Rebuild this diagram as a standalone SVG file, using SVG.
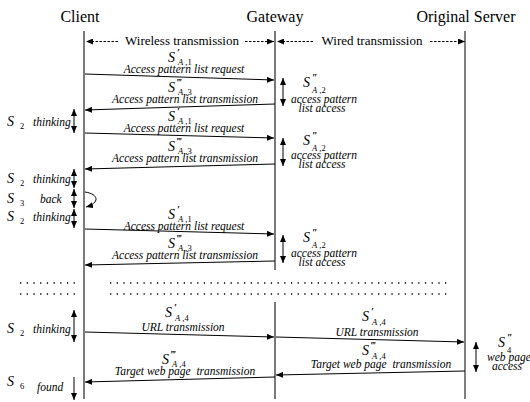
<svg xmlns="http://www.w3.org/2000/svg" width="530" height="402" viewBox="0 0 530 402">
<style>
text{font-family:"Liberation Serif","DejaVu Serif",serif;fill:#000}
.hd{font-size:16px}
.zone{font-size:13px}
.it{font-size:11.5px;font-style:italic;text-anchor:middle}
.itl{font-size:11.5px;font-style:italic}
.S{font-size:14px;font-style:italic}
.sub{font-size:8.5px}
.pr{font-size:10px;font-style:italic;font-weight:bold}
.life{stroke:#7a7a7a;stroke-width:2;fill:none}
.lifeb{stroke:#000;stroke-width:1;fill:none}
.msg{stroke:#000;stroke-width:1;fill:none;marker-end:url(#ah)}
.dbl{stroke:#000;stroke-width:1;fill:none;marker-end:url(#ah);marker-start:url(#ahs)}
.one{stroke:#000;stroke-width:1;fill:none;marker-end:url(#ah)}
.dash{stroke:#000;stroke-width:1;fill:none;stroke-dasharray:2.5 1.5}
.dot{stroke:#000;stroke-width:1.3;fill:none;stroke-dasharray:1.3 5.4}
</style>
<defs>
<marker id="ah" markerUnits="userSpaceOnUse" markerWidth="8" markerHeight="6" refX="7" refY="3" orient="auto"><path d="M0,0 L7,3 L0,6 z" fill="#000"/></marker>
<marker id="ahs" markerUnits="userSpaceOnUse" markerWidth="8" markerHeight="6" refX="7" refY="3" orient="auto-start-reverse"><path d="M0,0 L7,3 L0,6 z" fill="#000"/></marker>
</defs>

<g id="client">
<text class="hd" x="80" y="22" text-anchor="middle">Client</text>
<line class="life" x1="84" y1="31" x2="84" y2="399"/>
</g>
<g id="gateway">
<text class="hd" x="275" y="22" text-anchor="middle">Gateway</text>
<line class="life" x1="275" y1="31" x2="275" y2="270" stroke-width="1.6"/>
<line class="life" x1="275" y1="302" x2="275" y2="399" stroke-width="1.6"/>
</g>
<g id="server">
<text class="hd" x="466" y="22" text-anchor="middle">Original Server</text>
<line class="lifeb" x1="465" y1="31" x2="465" y2="399"/>
</g>

<g id="zones">
<text class="zone" x="182" y="45" text-anchor="middle">Wireless transmission</text>
<line class="dash" x1="118" y1="41.5" x2="86" y2="41.5" marker-end="url(#ah)"/>
<line class="dash" x1="245" y1="41.5" x2="274" y2="41.5" marker-end="url(#ah)"/>
<text class="zone" x="372" y="45" text-anchor="middle">Wired transmission</text>
<line class="dash" x1="313" y1="41.5" x2="277" y2="41.5" marker-end="url(#ah)"/>
<line class="dash" x1="430" y1="41.5" x2="465" y2="41.5" marker-end="url(#ah)"/>
</g>

<g id="connectors">
<line class="msg" x1="85" y1="74" x2="274" y2="80"/>
<line class="msg" x1="275" y1="104" x2="85" y2="110"/>
<line class="msg" x1="85" y1="133" x2="274" y2="138"/>
<line class="msg" x1="275" y1="164" x2="85" y2="169"/>
<line class="msg" x1="85" y1="229" x2="274" y2="234"/>
<line class="msg" x1="275" y1="261" x2="85" y2="265"/>
<line class="msg" x1="85" y1="332" x2="274" y2="337"/>
<line class="msg" x1="276" y1="337" x2="464" y2="342"/>
<line class="msg" x1="465" y1="371" x2="276" y2="375"/>
<line class="msg" x1="275" y1="377" x2="85" y2="382"/>
<path class="msg" d="M85,192 C99,194 100,203 86,207"/>
</g>

<g id="durations">
<line class="dbl" x1="74" y1="109" x2="74" y2="133"/>
<line class="dbl" x1="74" y1="169" x2="74" y2="188"/>
<line class="dbl" x1="74" y1="189" x2="74" y2="208"/>
<line class="dbl" x1="74" y1="209" x2="74" y2="228"/>
<line class="dbl" x1="74" y1="310" x2="74" y2="342"/>
<line class="one" x1="74" y1="377" x2="74" y2="400"/>
<line class="dbl" x1="283" y1="78" x2="283" y2="106"/>
<line class="dbl" x1="283" y1="138" x2="283" y2="166"/>
<line class="dbl" x1="283" y1="235" x2="283" y2="263"/>
<line class="dbl" x1="476" y1="342" x2="476" y2="372"/>
</g>

<g id="dots">
<line class="dot" x1="20" y1="283" x2="76" y2="283"/>
<line class="dot" x1="20" y1="294" x2="76" y2="294"/>
<line class="dot" x1="110" y1="283" x2="451" y2="283"/>
<line class="dot" x1="110" y1="294" x2="451" y2="294"/>
</g>

<g id="client-states">
<text class="S" x="7" y="126">S</text><text class="sub" x="20" y="129">2</text><text class="itl" x="33" y="126">thinking</text>
<text class="S" x="7" y="183">S</text><text class="sub" x="20" y="186">2</text><text class="itl" x="33" y="183">thinking</text>
<text class="S" x="7" y="203">S</text><text class="sub" x="20" y="206">3</text><text class="itl" x="40" y="203">back</text>
<text class="S" x="7" y="221">S</text><text class="sub" x="20" y="224">2</text><text class="itl" x="33" y="221">thinking</text>
<text class="S" x="7" y="333">S</text><text class="sub" x="20" y="336">2</text><text class="itl" x="33" y="333">thinking</text>
<text class="S" x="7" y="386">S</text><text class="sub" x="20" y="389">6</text><text class="itl" x="37" y="391">found</text>
</g>

<g id="msg-labels">
<text class="S" x="168" y="62">S</text><text class="pr" x="177" y="56">′</text><text class="sub" x="178" y="65"><tspan font-style="italic">A</tspan> ,1</text>
<text class="it" x="184" y="73">Access pattern list request</text>

<text class="S" x="168" y="92">S</text><text class="pr" x="176" y="86">‴</text><text class="sub" x="178" y="95"><tspan font-style="italic">A</tspan> ,3</text>
<text class="it" x="185" y="103">Access pattern list transmission</text>

<text class="S" x="168" y="121">S</text><text class="pr" x="177" y="115">′</text><text class="sub" x="178" y="124"><tspan font-style="italic">A</tspan> ,1</text>
<text class="it" x="184" y="132">Access pattern list request</text>

<text class="S" x="168" y="151">S</text><text class="pr" x="176" y="145">‴</text><text class="sub" x="178" y="154"><tspan font-style="italic">A</tspan> ,3</text>
<text class="it" x="185" y="162">Access pattern list transmission</text>

<text class="S" x="168" y="219">S</text><text class="pr" x="177" y="213">′</text><text class="sub" x="178" y="222"><tspan font-style="italic">A</tspan> ,1</text>
<text class="it" x="184" y="230">Access pattern list request</text>

<text class="S" x="168" y="248">S</text><text class="pr" x="176" y="242">‴</text><text class="sub" x="178" y="251"><tspan font-style="italic">A</tspan> ,3</text>
<text class="it" x="185" y="259">Access pattern list transmission</text>

<text class="S" x="165" y="317">S</text><text class="pr" x="174" y="311">′</text><text class="sub" x="175" y="321"><tspan font-style="italic">A</tspan> ,4</text>
<text class="it" x="183" y="331">URL transmission</text>

<text class="S" x="162" y="364">S</text><text class="pr" x="170" y="358">‴</text><text class="sub" x="172" y="367"><tspan font-style="italic">A</tspan> ,4</text>
<text class="it" x="185" y="375" xml:space="preserve">Target web page  transmission</text>

<text class="S" x="362" y="321">S</text><text class="pr" x="371" y="315">′</text><text class="sub" x="372" y="325"><tspan font-style="italic">A</tspan> ,4</text>
<text class="it" x="377" y="336">URL transmission</text>

<text class="S" x="362" y="355">S</text><text class="pr" x="370" y="349">‴</text><text class="sub" x="372" y="359"><tspan font-style="italic">A</tspan> ,4</text>
<text class="it" x="381" y="368" xml:space="preserve">Target web page  transmission</text>
</g>

<g id="gateway-states">
<text class="S" x="303" y="87">S</text><text class="pr" x="312" y="81">″</text><text class="sub" x="312" y="93"><tspan font-style="italic">A</tspan> ,2</text>
<text class="it" x="324" y="103">access pattern</text>
<text class="it" x="322" y="112">list access</text>

<text class="S" x="303" y="145">S</text><text class="pr" x="312" y="139">″</text><text class="sub" x="312" y="151"><tspan font-style="italic">A</tspan> ,2</text>
<text class="it" x="324" y="159">access pattern</text>
<text class="it" x="322" y="168">list access</text>

<text class="S" x="303" y="242">S</text><text class="pr" x="312" y="236">″</text><text class="sub" x="312" y="248"><tspan font-style="italic">A</tspan> ,2</text>
<text class="it" x="324" y="257">access pattern</text>
<text class="it" x="322" y="266">list access</text>
</g>

<g id="server-state">
<text class="S" x="498" y="347">S</text><text class="pr" x="507" y="341">″</text><text class="sub" x="507" y="353">4</text>
<text class="itl" x="487" y="361" font-size="11">web page</text>
<text class="itl" x="492" y="370" font-size="11">access</text>
</g>
</svg>
